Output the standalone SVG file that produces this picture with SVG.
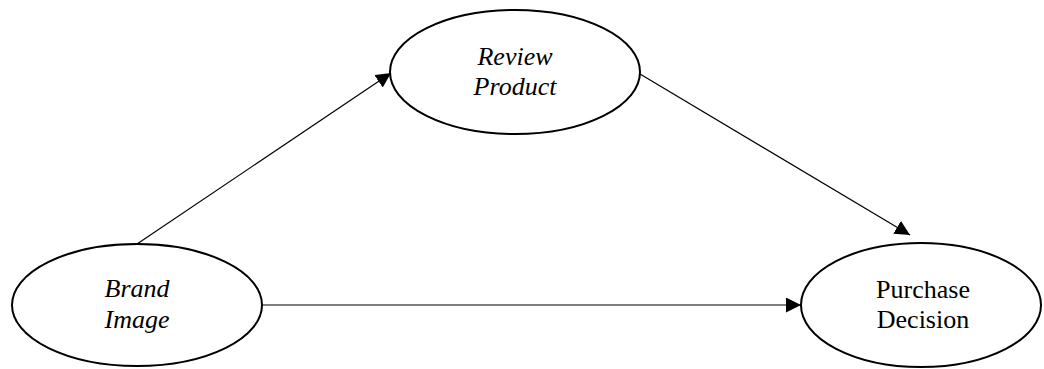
<svg xmlns="http://www.w3.org/2000/svg" width="1044" height="369" viewBox="0 0 1044 369">
  <style>
    .node ellipse { fill: #ffffff; stroke: #000000; stroke-width: 2; }
    .label { font-family: "Liberation Serif", "Times New Roman", serif; font-size: 26px; fill: #000000; text-anchor: middle; }
    .it { font-style: italic; }
    .edge { stroke: #000000; stroke-width: 1.2; fill: none; marker-end: url(#head); }
  </style>
  <defs>
    <marker id="head" markerUnits="userSpaceOnUse" markerWidth="16" markerHeight="16" refX="15" refY="7.5" orient="auto">
      <path d="M0,0 L15,7.5 L0,15 z" fill="#000000"/>
    </marker>
  </defs>
  <rect width="1044" height="369" fill="#ffffff"/>

  <!-- arrows between the three constructs -->
  <g id="connectors">
    <line class="edge" x1="137" y1="244" x2="391" y2="73"/>
    <line class="edge" x1="640" y1="74" x2="910" y2="235"/>
    <line class="edge" x1="262" y1="305" x2="801" y2="305"/>
  </g>

  <g id="brand-image" class="node">
    <ellipse cx="137" cy="305" rx="125" ry="61"/>
    <text class="label it" x="137" y="297">Brand</text>
    <text class="label it" x="137" y="328">Image</text>
  </g>

  <g id="review-product" class="node">
    <ellipse cx="515" cy="72" rx="125" ry="62"/>
    <text class="label it" x="515" y="65">Review</text>
    <text class="label it" x="515" y="95">Product</text>
  </g>

  <g id="purchase-decision" class="node">
    <ellipse cx="921" cy="305" rx="120" ry="62"/>
    <text class="label" x="923" y="298">Purchase</text>
    <text class="label" x="923" y="328">Decision</text>
  </g>
</svg>
